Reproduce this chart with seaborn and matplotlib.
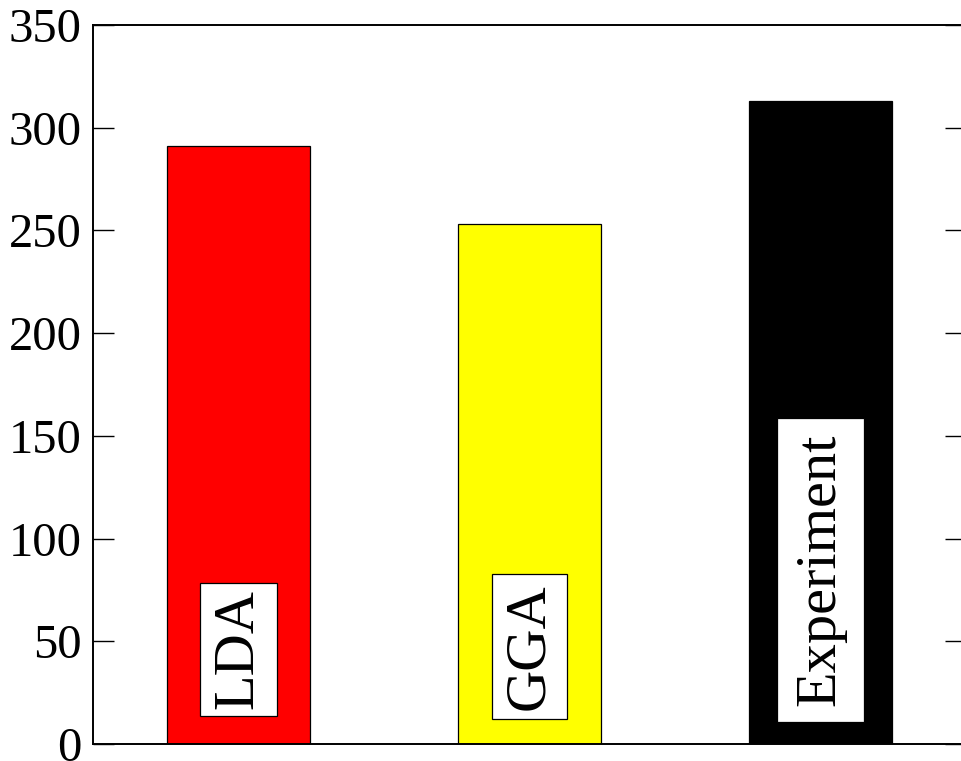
import matplotlib
matplotlib.use("Agg")
import matplotlib.pyplot as plt
import seaborn as sns
import pandas as pd

# Data
methods = ["LDA", "GGA", "Experiment"]
values = [291, 253, 313]
bar_colors = ["#ff0000", "#ffff00", "#000000"]
yticks = [0, 50, 100, 150, 200, 250, 300, 350]

# Vertical centre of each in-bar label (data units)
label_centers = [46, 47.4, 84.7]
# Label box padding: (pad along the text in em, across/along ratio)
label_pads = [(0.12, 1.79), (0.154, 1.33), (0.274, 1.125)]

sns.set_theme(style="white")
plt.rcParams["font.family"] = ["Liberation Serif", "DejaVu Serif"]

fig = plt.figure(figsize=(9.62, 7.61), dpi=100)
ax = fig.add_axes([93 / 962, 17 / 761, 873 / 962, 719 / 761])

df = pd.DataFrame({"method": methods, "value": values})
sns.barplot(data=df, x="method", y="value", hue="method", palette=bar_colors,
            saturation=1, width=0.49, edgecolor="black", linewidth=0.9,
            legend=False, ax=ax, zorder=2)

for i, (name, yc, (pad, aspect)) in enumerate(zip(methods, label_centers, label_pads)):
    ax.text(i, yc, name, rotation=90, ha="center", va="center",
            fontsize=42, color="black", zorder=5,
            bbox=dict(boxstyle=f"square,pad={pad}", mutation_aspect=aspect,
                      fc="white", ec="black", lw=0.9))

ax.set_xlim(-0.5, 2.5)
ax.set_ylim(0, 350)
ax.set_yticks(yticks)
ax.set_yticklabels([str(t) for t in yticks])
ax.set_xticks([])
ax.set_xlabel("")
ax.set_ylabel("")

ax.tick_params(axis="y", which="both", direction="in", length=15, width=1.0,
               left=True, right=True, labelleft=True, labelright=False,
               labelsize=35, pad=8, colors="black")

for side in ["left", "right", "top", "bottom"]:
    ax.spines[side].set_visible(True)
    ax.spines[side].set_color("black")
    ax.spines[side].set_linewidth(1.4)

fig.savefig("out.png", dpi=100)
